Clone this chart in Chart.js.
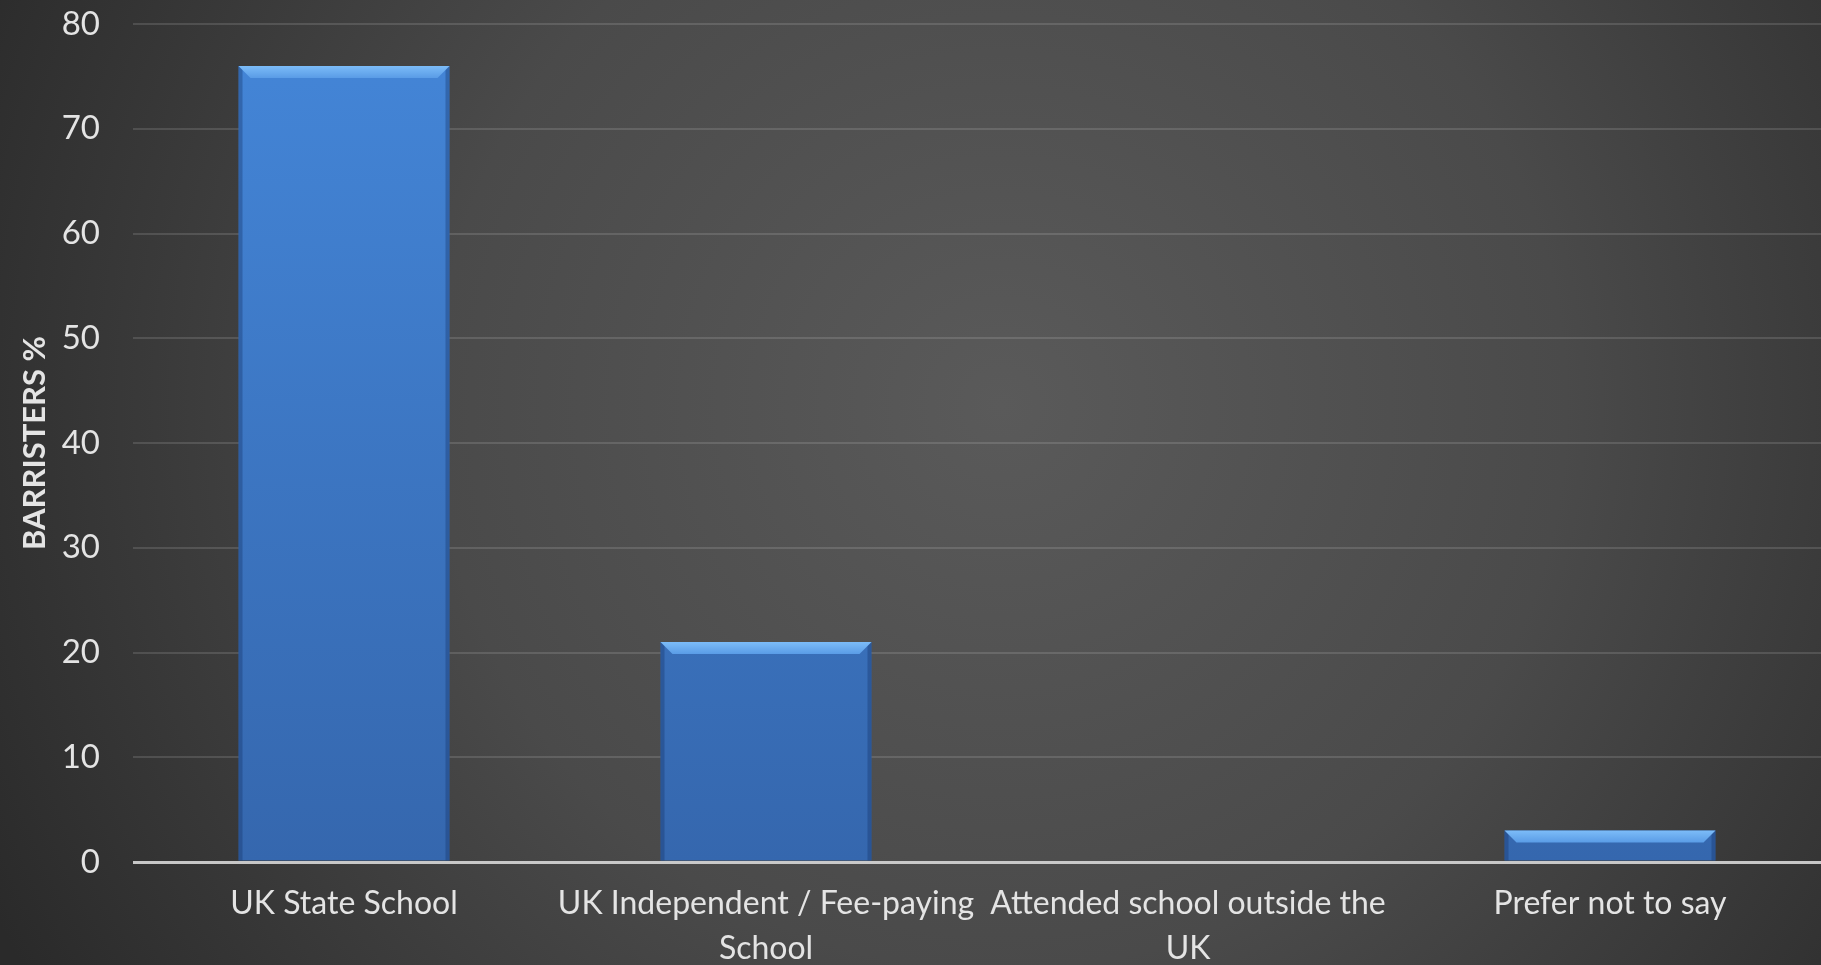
<!DOCTYPE html>
<html>
<head>
<meta charset="utf-8">
<script src="https://cdn.jsdelivr.net/npm/chart.js@4"></script>
<style>
  html, body { margin: 0; padding: 0; background: #3a3a3a; }
  #wrap { width: 1821px; height: 965px; position: relative; }
</style>
</head>
<body>
<div id="wrap"><canvas id="c" width="1821" height="965"></canvas></div>
<script>
const categories = [
  "UK State School",
  ["UK Independent / Fee-paying", "School"],
  ["Attended school outside the", "UK"],
  "Prefer not to say"
];
const barristersPct = [76, 21, 0, 3];
const yTicks = [0, 10, 20, 30, 40, 50, 60, 70, 80];
const yTitle = "BARRISTERS %";

const bgPlugin = {
  id: 'bg',
  beforeDraw(chart) {
    const ctx = chart.ctx, w = chart.width, h = chart.height;
    ctx.save();
    const g = ctx.createRadialGradient(w * 0.55, h * 0.42, 0, w * 0.55, h * 0.42, w * 0.62);
    g.addColorStop(0, '#5a5a5a');
    g.addColorStop(0.5, '#4a4a4a');
    g.addColorStop(1, '#2a2a2a');
    ctx.fillStyle = g;
    ctx.fillRect(0, 0, w, h);
    ctx.restore();
  }
};

// bevel styling on top of each bar, using the bar elements' own geometry
const bevelPlugin = {
  id: 'bevel',
  afterDatasetsDraw(chart) {
    const ctx = chart.ctx;
    const meta = chart.getDatasetMeta(0);
    meta.data.forEach((bar) => {
      const p = bar.getProps(['x', 'y', 'base', 'width'], true);
      const h = p.base - p.y;
      if (h < 2) return;
      const l = p.x - p.width / 2, r = p.x + p.width / 2, t = p.y;
      const b = Math.min(12, h * 0.45);
      ctx.save();
      // darker side edges
      ctx.fillStyle = 'rgba(20,50,100,0.35)';
      ctx.fillRect(l, t, 4, h);
      ctx.fillRect(r - 4, t, 4, h);
      // top bevel
      const g = ctx.createLinearGradient(0, t, 0, t + b);
      g.addColorStop(0, '#7cbcf8');
      g.addColorStop(1, '#5a9ce6');
      ctx.fillStyle = g;
      ctx.beginPath();
      ctx.moveTo(l, t);
      ctx.lineTo(r, t);
      ctx.lineTo(r - b, t + b);
      ctx.lineTo(l + b, t + b);
      ctx.closePath();
      ctx.fill();
      ctx.restore();
    });
  }
};

function barFill(context) {
  const chart = context.chart;
  const area = chart.chartArea;
  if (!area) return '#3f7fd0';
  const g = chart.ctx.createLinearGradient(0, area.top, 0, area.bottom);
  g.addColorStop(0, '#4486d8');
  g.addColorStop(1, '#3567ae');
  return g;
}

new Chart(document.getElementById('c'), {
  type: 'bar',
  data: {
    labels: categories,
    datasets: [{
      data: barristersPct,
      backgroundColor: barFill,
      borderWidth: 0,
      barPercentage: 0.5,
      categoryPercentage: 1.0
    }]
  },
  plugins: [bgPlugin, bevelPlugin],
  options: {
    responsive: false,
    animation: false,
    devicePixelRatio: 1,
    layout: { padding: { top: 0, right: 0, left: 0, bottom: 0 } },
    plugins: { legend: { display: false }, tooltip: { enabled: false } },
    scales: {
      x: {
        grid: { display: false, drawTicks: false },
        border: { display: false },
        ticks: {
          color: '#e4e4e4',
          font: { family: 'Lato', size: 32, lineHeight: 1.38 },
          padding: 20,
          maxRotation: 0,
          autoSkip: false
        },
        afterFit(scale) { scale.height = 103; }
      },
      y: {
        min: 0, max: 80,
        afterBuildTicks(scale) { scale.ticks = yTicks.map(v => ({ value: v })); },
        grid: {
          color: (ctx) => ctx.tick && ctx.tick.value === 0 ? 'rgba(215,215,215,0.9)' : 'rgba(255,255,255,0.13)',
          lineWidth: (ctx) => ctx.tick && ctx.tick.value === 0 ? 3 : 2,
          drawTicks: false
        },
        border: { display: false },
        ticks: {
          color: '#e4e4e4',
          font: { family: 'Lato', size: 33 },
          padding: 33
        },
        title: {
          display: true,
          text: yTitle,
          color: '#e4e4e4',
          font: { family: 'Lato', size: 31, weight: 'bold' },
          padding: { top: 16, bottom: 0 }
        },
        afterFit(scale) { scale.width = 133; scale.paddingTop = 24; scale.paddingBottom = 20; }
      }
    }
  }
});
</script>
</body>
</html>
